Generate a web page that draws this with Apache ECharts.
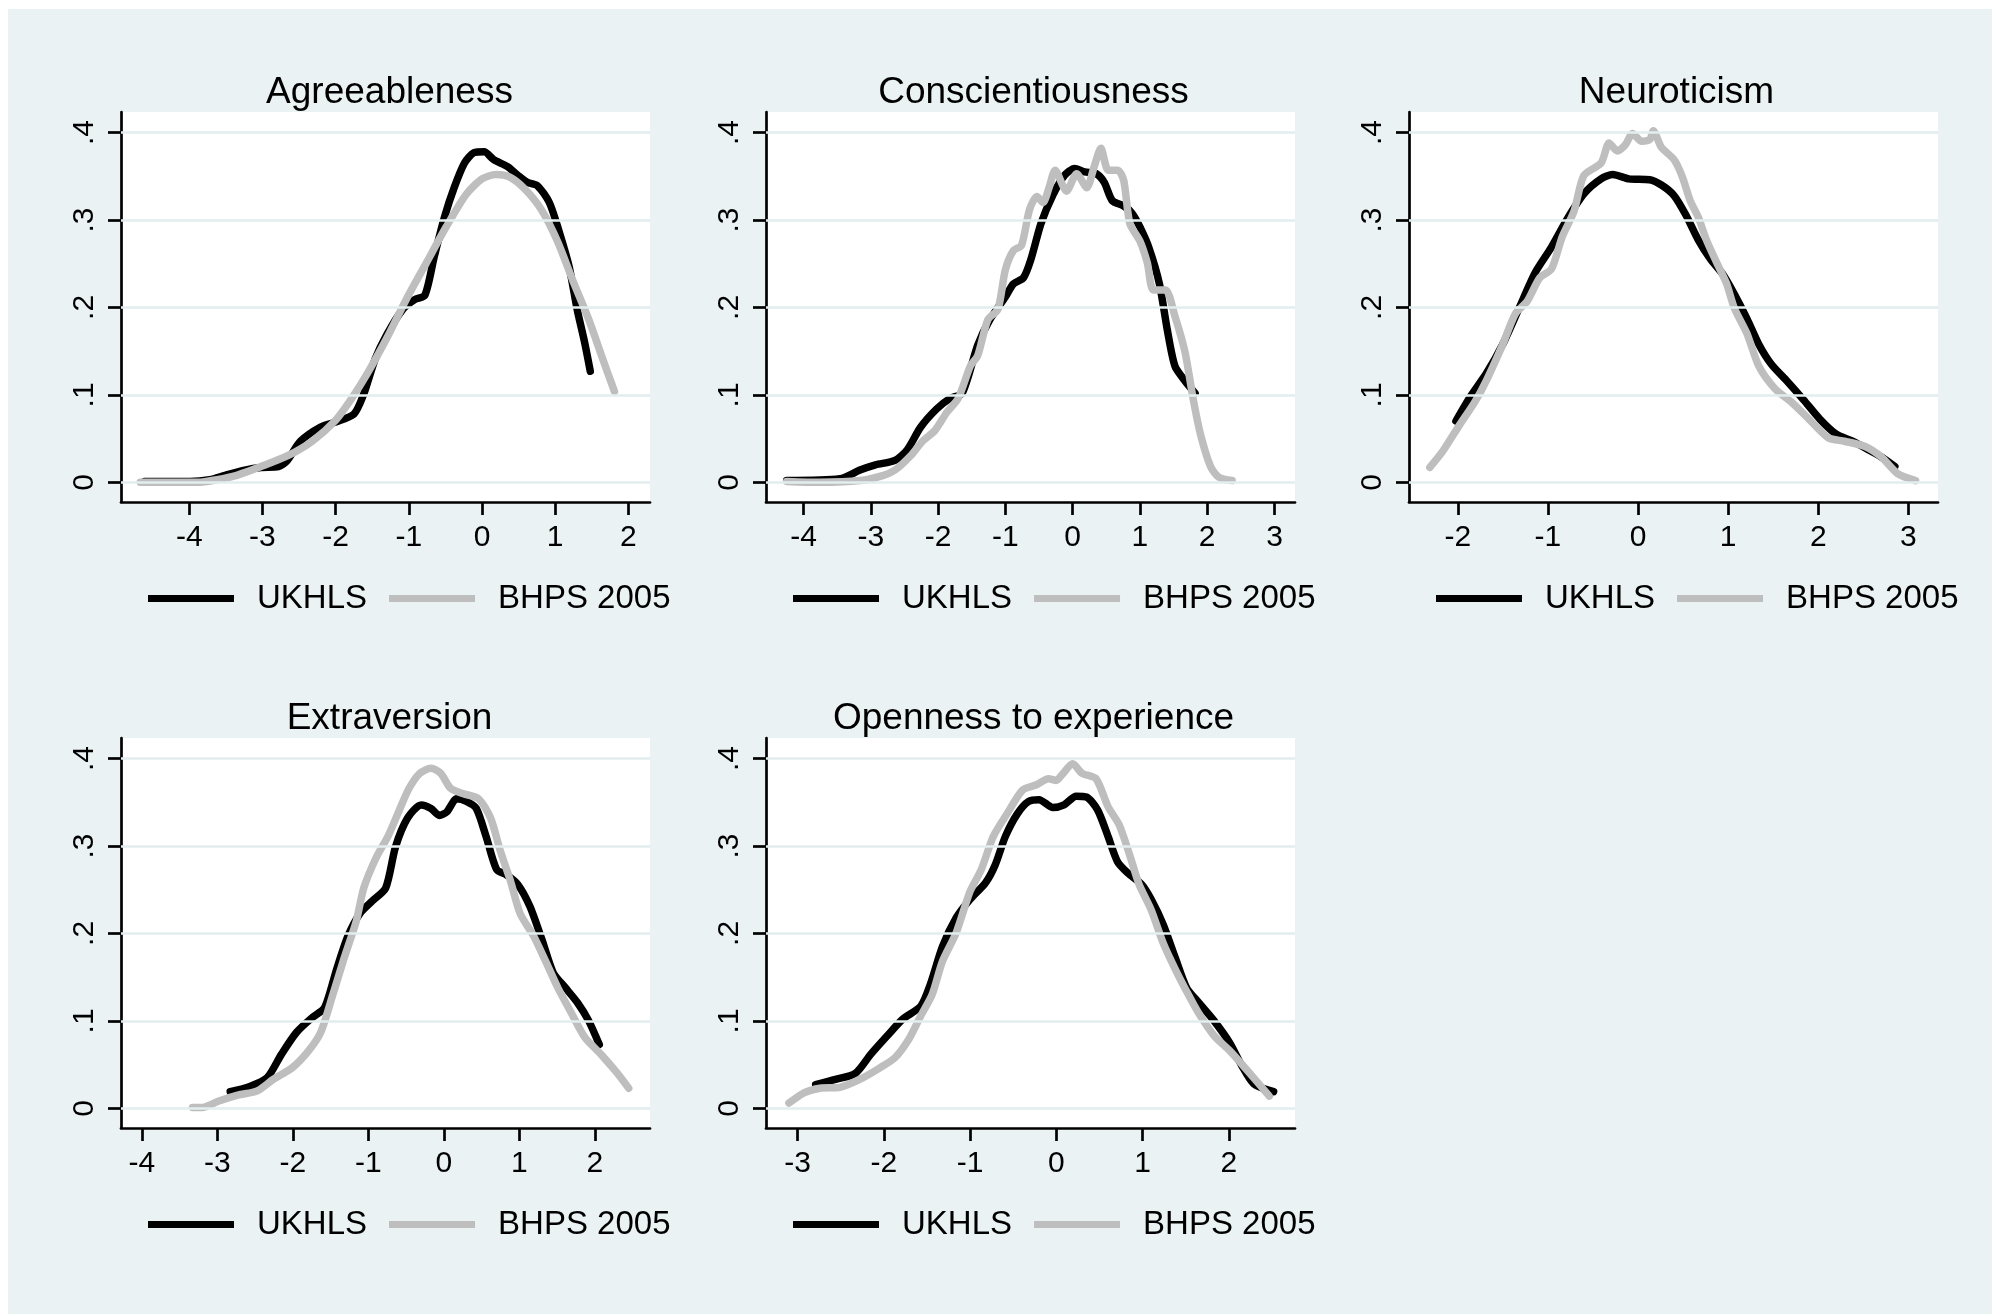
<!DOCTYPE html>
<html><head><meta charset="utf-8">
<script src="https://cdn.jsdelivr.net/npm/echarts/dist/echarts.min.js"></script>
<style>html,body{margin:0;padding:0;background:#fff}#chart{width:1992px;height:1314px}</style>
</head><body><div id="chart"></div>
<script>
// ---------- data ----------
const panelTitles = ['Agreeableness', 'Conscientiousness', 'Neuroticism', 'Extraversion', 'Openness to experience'];
const seriesNames = ['UKHLS', 'BHPS 2005'];
const yTickValues = [0, 0.1, 0.2, 0.3, 0.4];
const yTickLabels = ['0', '.1', '.2', '.3', '.4'];
const xTicksAgree = [-4, -3, -2, -1, 0, 1, 2];
const xTicksConsc = [-4, -3, -2, -1, 0, 1, 2, 3];
const xTicksNeuro = [-2, -1, 0, 1, 2, 3];
const xTicksExtra = [-4, -3, -2, -1, 0, 1, 2];
const xTicksOpen = [-3, -2, -1, 0, 1, 2];

const agreeUKHLS = [[-4.61,0.001],[-3.99,0.001],[-3.72,0.003],[-3.51,0.008],[-3.24,0.014],[-3.02,0.017],[-2.78,0.018],[-2.67,0.024],[-2.48,0.047],[-2.21,0.063],[-2.00,0.069],[-1.75,0.078],[-1.62,0.100],[-1.46,0.141],[-1.30,0.169],[-1.08,0.198],[-0.92,0.209],[-0.78,0.214],[-0.65,0.259],[-0.51,0.304],[-0.38,0.337],[-0.24,0.365],[-0.11,0.377],[0.03,0.378],[0.16,0.369],[0.35,0.361],[0.49,0.351],[0.62,0.343],[0.76,0.339],[0.92,0.320],[1.05,0.288],[1.19,0.247],[1.30,0.198],[1.40,0.161],[1.48,0.127]];
const agreeBHPS = [[-4.67,0],[-3.89,0],[-3.62,0.003],[-3.35,0.008],[-3.02,0.018],[-2.64,0.031],[-2.32,0.047],[-2.00,0.071],[-1.78,0.096],[-1.57,0.124],[-1.30,0.165],[-1.03,0.210],[-0.76,0.251],[-0.49,0.292],[-0.22,0.329],[0.00,0.347],[0.19,0.352],[0.38,0.349],[0.59,0.335],[0.81,0.312],[1.03,0.276],[1.24,0.231],[1.46,0.186],[1.65,0.141],[1.81,0.104]];

const conscUKHLS = [[-4.25,0.002],[-3.46,0.004],[-3.16,0.014],[-2.93,0.020],[-2.64,0.025],[-2.46,0.037],[-2.26,0.063],[-2.02,0.084],[-1.82,0.096],[-1.64,0.102],[-1.41,0.157],[-1.23,0.186],[-1.00,0.212],[-0.88,0.227],[-0.73,0.234],[-0.62,0.255],[-0.47,0.296],[-0.29,0.329],[-0.12,0.351],[0.03,0.359],[0.18,0.355],[0.35,0.353],[0.47,0.343],[0.59,0.322],[0.76,0.316],[0.88,0.308],[1.00,0.292],[1.14,0.267],[1.29,0.227],[1.41,0.173],[1.52,0.133],[1.67,0.116],[1.82,0.102]];
const conscBHPS = [[-4.25,0.001],[-3.75,0],[-3.16,0.002],[-2.81,0.008],[-2.64,0.014],[-2.40,0.031],[-2.23,0.047],[-2.05,0.059],[-1.87,0.080],[-1.70,0.096],[-1.52,0.133],[-1.41,0.145],[-1.26,0.186],[-1.11,0.198],[-1.00,0.243],[-0.88,0.265],[-0.76,0.271],[-0.64,0.312],[-0.53,0.327],[-0.44,0.320],[-0.35,0.337],[-0.26,0.357],[-0.09,0.333],[0.06,0.353],[0.21,0.337],[0.32,0.361],[0.42,0.382],[0.53,0.357],[0.67,0.357],[0.76,0.345],[0.85,0.296],[1.00,0.276],[1.11,0.251],[1.20,0.220],[1.38,0.220],[1.52,0.190],[1.67,0.149],[1.79,0.096],[1.90,0.055],[2.05,0.018],[2.17,0.006],[2.37,0.002]];

const neuroUKHLS = [[-2.02,0.070],[-1.86,0.098],[-1.68,0.125],[-1.50,0.158],[-1.32,0.199],[-1.14,0.240],[-0.96,0.269],[-0.78,0.302],[-0.60,0.330],[-0.41,0.347],[-0.28,0.352],[-0.10,0.347],[0.13,0.346],[0.26,0.340],[0.40,0.328],[0.53,0.306],[0.67,0.277],[0.80,0.256],[0.94,0.238],[1.07,0.215],[1.21,0.187],[1.34,0.158],[1.48,0.135],[1.66,0.115],[1.84,0.094],[2.02,0.072],[2.20,0.055],[2.38,0.047],[2.56,0.037],[2.70,0.029],[2.85,0.018]];
const neuroBHPS = [[-2.31,0.017],[-2.17,0.035],[-1.99,0.064],[-1.81,0.092],[-1.68,0.117],[-1.50,0.158],[-1.36,0.193],[-1.23,0.207],[-1.09,0.234],[-0.96,0.244],[-0.84,0.281],[-0.71,0.310],[-0.60,0.351],[-0.41,0.365],[-0.32,0.388],[-0.23,0.379],[-0.14,0.386],[-0.06,0.399],[0.04,0.390],[0.13,0.392],[0.17,0.402],[0.26,0.383],[0.40,0.369],[0.49,0.350],[0.58,0.322],[0.67,0.303],[0.76,0.277],[0.87,0.252],[0.98,0.228],[1.07,0.199],[1.21,0.170],[1.34,0.133],[1.52,0.107],[1.70,0.092],[1.88,0.074],[2.11,0.051],[2.29,0.047],[2.52,0.041],[2.70,0.029],[2.88,0.010],[3.08,0.002]];

const extraUKHLS = [[-2.83,0.019],[-2.57,0.025],[-2.34,0.035],[-2.15,0.062],[-1.95,0.087],[-1.74,0.104],[-1.58,0.115],[-1.42,0.159],[-1.27,0.197],[-1.11,0.223],[-0.95,0.237],[-0.77,0.252],[-0.64,0.299],[-0.48,0.332],[-0.30,0.347],[-0.17,0.343],[-0.06,0.335],[0.04,0.339],[0.17,0.354],[0.30,0.351],[0.43,0.343],[0.56,0.311],[0.70,0.273],[0.83,0.267],[0.98,0.256],[1.14,0.231],[1.30,0.193],[1.45,0.155],[1.61,0.138],[1.77,0.121],[1.92,0.100],[2.06,0.073]];
const extraBHPS = [[-3.33,0.001],[-3.20,0.001],[-2.99,0.008],[-2.73,0.015],[-2.47,0.020],[-2.26,0.033],[-2.00,0.047],[-1.79,0.066],[-1.63,0.087],[-1.47,0.130],[-1.32,0.172],[-1.16,0.214],[-1.06,0.252],[-0.90,0.286],[-0.74,0.311],[-0.59,0.341],[-0.46,0.366],[-0.32,0.383],[-0.17,0.389],[-0.04,0.383],[0.09,0.366],[0.25,0.360],[0.46,0.354],[0.62,0.332],[0.75,0.294],[0.88,0.261],[1.01,0.223],[1.19,0.197],[1.35,0.168],[1.51,0.138],[1.69,0.109],[1.87,0.081],[2.08,0.062],[2.29,0.041],[2.45,0.023]];

const openUKHLS = [[-2.79,0.027],[-2.56,0.033],[-2.33,0.040],[-2.15,0.062],[-1.96,0.083],[-1.78,0.102],[-1.57,0.117],[-1.46,0.142],[-1.32,0.185],[-1.16,0.218],[-1.00,0.239],[-0.82,0.258],[-0.71,0.278],[-0.59,0.311],[-0.45,0.337],[-0.32,0.351],[-0.20,0.353],[-0.04,0.344],[0.09,0.347],[0.23,0.357],[0.35,0.356],[0.48,0.341],[0.60,0.311],[0.71,0.282],[0.83,0.269],[0.99,0.256],[1.10,0.239],[1.24,0.210],[1.38,0.172],[1.51,0.138],[1.65,0.121],[1.83,0.100],[2.01,0.075],[2.15,0.049],[2.29,0.028],[2.52,0.019]];
const openBHPS = [[-3.10,0.006],[-2.92,0.018],[-2.74,0.023],[-2.51,0.024],[-2.28,0.033],[-2.05,0.046],[-1.87,0.058],[-1.71,0.079],[-1.57,0.106],[-1.44,0.130],[-1.32,0.168],[-1.16,0.201],[-1.00,0.248],[-0.87,0.273],[-0.73,0.311],[-0.57,0.337],[-0.39,0.364],[-0.23,0.370],[-0.09,0.377],[0.00,0.375],[0.07,0.382],[0.19,0.394],[0.30,0.383],[0.46,0.377],[0.60,0.345],[0.73,0.324],[0.85,0.290],[0.96,0.256],[1.10,0.227],[1.24,0.189],[1.38,0.159],[1.51,0.134],[1.65,0.109],[1.83,0.083],[2.01,0.066],[2.20,0.045],[2.47,0.014]];

// ---------- layout ----------
const FONT = '"Liberation Sans", Arial, Helvetica, sans-serif';
const GRID_W = 529, GRID_H = 390;
const Y_MIN = -0.0225, Y_MAX = 0.4235;
const panels = [
  { left: 121,  top: 112, xMin: -4.933, xMax: 2.296, xTicks: xTicksAgree, a: agreeUKHLS, b: agreeBHPS, tdx: 0 },
  { left: 766,  top: 112, xMin: -4.557, xMax: 3.305, xTicks: xTicksConsc, a: conscUKHLS, b: conscBHPS, tdx: -1 },
  { left: 1409, top: 112, xMin: -2.541, xMax: 3.329, xTicks: xTicksNeuro, a: neuroUKHLS, b: neuroBHPS, tdx: -1 },
  { left: 121,  top: 738, xMin: -4.277, xMax: 2.732, xTicks: xTicksExtra, a: extraUKHLS, b: extraBHPS, tdx: 0 },
  { left: 766,  top: 738, xMin: -3.366, xMax: 2.768, xTicks: xTicksOpen, a: openUKHLS, b: openBHPS, tdx: -1 }
];
const COLORS = ['#000000', '#bebebe'];
const BG = '#eaf2f3';

const option = {
  animation: false,
  backgroundColor: '#ffffff',
  graphic: [{ type: 'rect', z: -100, silent: true, shape: { x: 8, y: 9, width: 1984, height: 1305 }, style: { fill: BG } }],
  title: [], grid: [], xAxis: [], yAxis: [], legend: [], series: []
};

panels.forEach((p, i) => {
  option.title.push({
    text: panelTitles[i], left: p.left + GRID_W / 2 - 1 + p.tdx, top: p.top - 43, textAlign: 'center',
    textStyle: { fontFamily: FONT, fontSize: 37, fontWeight: 'normal', color: '#000' }
  });
  option.grid.push({ left: p.left, top: p.top, width: GRID_W, height: GRID_H, show: true, backgroundColor: '#ffffff', borderWidth: 0, containLabel: false });
  option.xAxis.push({
    type: 'value', gridIndex: i, min: p.xMin, max: p.xMax,
    axisLine: { show: true, onZero: false, lineStyle: { color: '#000', width: 2.7 } },
    axisTick: { show: true, inside: false, length: 13, customValues: p.xTicks, lineStyle: { color: '#000', width: 2.7 } },
    axisLabel: { show: true, margin: 21, customValues: p.xTicks, fontFamily: FONT, fontSize: 30, color: '#000', formatter: v => String(Math.round(v)) },
    splitLine: { show: false }
  });
  option.yAxis.push({
    type: 'value', gridIndex: i, min: Y_MIN, max: Y_MAX,
    axisLine: { show: true, onZero: false, lineStyle: { color: '#000', width: 2.7 } },
    axisTick: { show: true, inside: false, length: 13, customValues: yTickValues, lineStyle: { color: '#000', width: 2.7 } },
    axisLabel: {
      show: true, margin: 21, rotate: 90, customValues: yTickValues, fontFamily: FONT, fontSize: 30, color: '#000',
      formatter: v => { const k = yTickValues.findIndex(t => Math.abs(t - v) < 1e-9); return k >= 0 ? yTickLabels[k] : ''; }
    },
    splitLine: { show: false }
  });
  option.legend.push({
    left: p.left + 22, top: p.top + 465, orient: 'horizontal', icon: 'rect',
    itemWidth: 86, itemHeight: 7, itemGap: 22, selectedMode: false, data: seriesNames,
    textStyle: { fontFamily: FONT, fontSize: 33, color: '#000', padding: [0, 0, 0, 18] }
  });
  // horizontal gridlines at the y ticks
  option.series.push({
    type: 'line', name: 'grid' + i, xAxisIndex: i, yAxisIndex: i, data: [], z: 1, silent: true,
    markLine: {
      silent: true, symbol: ['none', 'none'], label: { show: false }, animation: false,
      lineStyle: { color: '#e3edef', width: 2.7, type: 'solid' },
      data: yTickValues.map(v => ({ yAxis: v }))
    }
  });
  [p.a, p.b].forEach((d, j) => {
    option.series.push({
      type: 'line', name: seriesNames[j], xAxisIndex: i, yAxisIndex: i, data: d,
      showSymbol: false, symbol: 'none', smooth: 0.25, z: 3 + j, silent: true,
      itemStyle: { color: COLORS[j] },
      lineStyle: { color: COLORS[j], width: 7.5, cap: 'round', join: 'round' },
      emphasis: { disabled: true }
    });
  });
});

const chart = echarts.init(document.getElementById('chart'), null, { renderer: 'canvas' });
chart.setOption(option);
</script>
</body></html>
